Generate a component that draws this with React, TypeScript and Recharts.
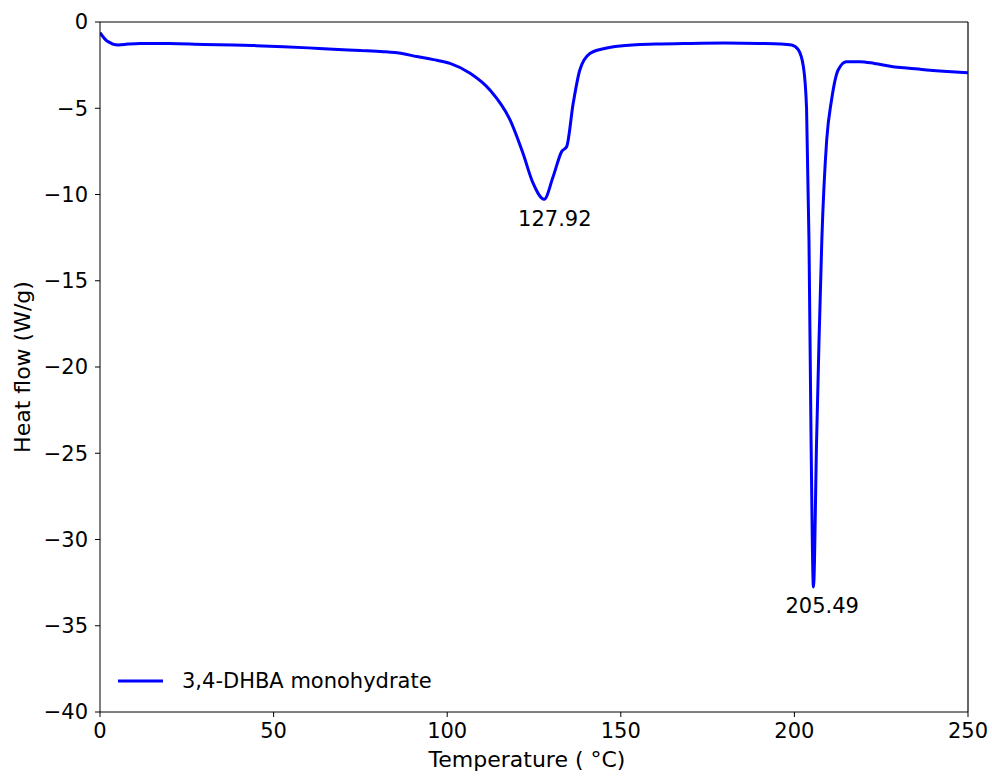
import React from 'react';
import { LineChart, Line, XAxis, YAxis, ReferenceLine, ReferenceDot, Label } from 'recharts';

// DSC trace
const temperature = [
    0, 2, 5.3, 8, 11.5, 20, 30, 38.4, 45, 52.8, 60, 67.2, 75, 81.6, 87, 91.2, 96, 100.8,
    106.6, 112.3, 118.1, 121.8, 124.7, 127.92, 130.5, 133, 134.4, 136.3, 138.2, 141.1, 145,
    149.8, 160, 170, 180, 190, 196, 199.2, 201.1, 202.6, 203.5, 204.2, 204.8, 205.49, 206.4,
    207.1, 207.9, 209.3, 210.7, 212.6, 215, 218.9, 223, 228.4, 233, 238.1, 244, 250,
];
const heatFlow = [
    -0.62, -1.1, -1.33, -1.28, -1.24, -1.25, -1.3, -1.33, -1.37, -1.43, -1.5, -1.58, -1.65, -1.72,
    -1.83, -2.0, -2.18, -2.4, -2.97, -3.94, -5.68, -7.6, -9.33, -10.28, -8.97, -7.5, -7.23, -4.7,
    -2.78, -1.82, -1.55, -1.39, -1.28, -1.24, -1.22, -1.24, -1.27, -1.33, -1.6, -2.6, -5.0,
    -12.64, -24.2, -32.75, -24.2, -18.4, -12.64, -6.84, -4.52, -2.78, -2.3, -2.3, -2.4, -2.59,
    -2.68, -2.78, -2.87, -2.94,
];

const xTicks = [0, 50, 100, 150, 200, 250];
const yTicks = [0, -5, -10, -15, -20, -25, -30, -35, -40];

const peaks = [
    { x: 131.0, y: -11.4, text: '127.92' },
    { x: 208.0, y: -33.8, text: '205.49' },
];

const seriesName = '3,4-DHBA monohydrate';

const data = temperature.map((t, i) => ({ t, hf: heatFlow[i] }));

const FONT = '"DejaVu Sans", sans-serif';
const minus = (v: number) => String(v).replace('-', '\u2212');

const App = () => {
    return (
        <div style={{ position: 'absolute', left: 0, top: 0, width: 992, height: 776 }}>
            <LineChart width={992} height={776} data={data} margin={{ top: 22, right: 24, left: 0, bottom: 0 }}>
                <XAxis
                    dataKey="t"
                    type="number"
                    domain={[0, 250]}
                    ticks={xTicks}
                    height={64}
                    tickSize={5}
                    tickMargin={6}
                    stroke="#000"
                    tick={{ fill: '#000', fontSize: 21, fontFamily: FONT }}
                    allowDataOverflow
                >
                    <Label
                        content={() => (
                            <text x={527} y={759} textAnchor="middle" dominantBaseline="central" fontFamily={FONT} fontSize={22} fill="#000">
                                Temperature ( °C)
                            </text>
                        )}
                    />
                </XAxis>
                <YAxis
                    type="number"
                    domain={[-40, 0]}
                    ticks={yTicks}
                    width={100}
                    tickSize={5}
                    tickMargin={7}
                    stroke="#000"
                    tickFormatter={minus}
                    tick={{ fill: '#000', fontSize: 21, fontFamily: FONT }}
                    allowDataOverflow
                >
                    <Label
                        content={() => (
                            <text x={22} y={367} transform="rotate(-90 22 367)" textAnchor="middle" dominantBaseline="central" fontFamily={FONT} fontSize={22} fill="#000">
                                Heat flow (W/g)
                            </text>
                        )}
                    />
                    <Label
                        content={() => (
                            <g>
                                <line x1={118} y1={681} x2={163} y2={681} stroke="#0000ff" strokeWidth={3} />
                                <text x={182} y={681} dominantBaseline="central" fontFamily={FONT} fontSize={21} fill="#000">
                                    {seriesName}
                                </text>
                            </g>
                        )}
                    />
                </YAxis>
                <ReferenceLine y={0} stroke="#000" strokeWidth={1.2} />
                <ReferenceLine x={250} stroke="#000" strokeWidth={1.2} />
                <Line
                    dataKey="hf"
                    name={seriesName}
                    type="monotone"
                    stroke="#0000ff"
                    strokeWidth={3}
                    dot={false}
                    isAnimationActive={false}
                />
                {peaks.map((p) => (
                    <ReferenceDot
                        key={p.text}
                        x={p.x}
                        y={p.y}
                        r={0}
                        stroke="none"
                        label={{ value: p.text, position: 'center', fontSize: 21, fontFamily: FONT, fill: '#000' }}
                    />
                ))}
            </LineChart>
        </div>
    );
};

export default App;
